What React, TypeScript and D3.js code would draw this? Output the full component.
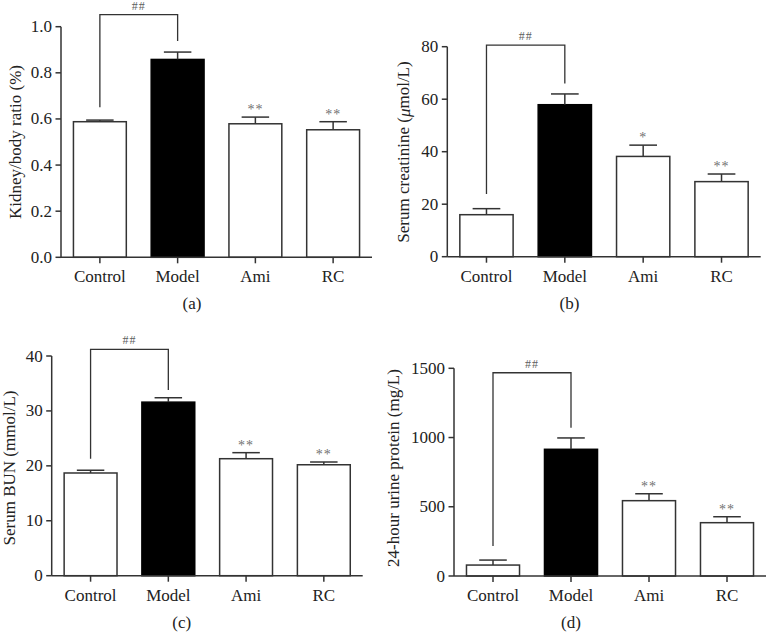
import React from "react";
import * as d3 from "d3";

const categories = ["Control", "Model", "Ami", "RC"];

const kidneyMeans = [0.588, 0.858, 0.579, 0.553];
const kidneySem = [0.007, 0.032, 0.029, 0.035];
const kidneyStars = ["", "", "**", "**"];
const kidneyTicks = [0, 0.2, 0.4, 0.6, 0.8, 1.0];
const kidneyBracket = [1.052, 0.651, 0.938]; // top, left leg end, right leg end

const creatMeans = [16.0, 57.9, 38.2, 28.6];
const creatSem = [2.3, 4.1, 4.3, 2.9];
const creatStars = ["", "", "*", "**"];
const creatTicks = [0, 20, 40, 60, 80];
const creatBracket = [80.6, 23.9, 66];

const bunMeans = [18.7, 31.6, 21.3, 20.2];
const bunSem = [0.5, 0.8, 1.1, 0.5];
const bunStars = ["", "", "**", "**"];
const bunTicks = [0, 10, 20, 30, 40];
const bunBracket = [41.2, 21.3, 33.8];

const urineMeans = [79, 915, 544, 385];
const urineSem = [36, 82, 50, 43];
const urineStars = ["", "", "**", "**"];
const urineTicks = [0, 500, 1000, 1500];
const urineBracket = [1468, 217, 1071];

const FONT = "'Liberation Serif', 'Times New Roman', serif";
const LINE = "#333";
const FS = 17;

type PanelProps = {
  means: number[];
  sem: number[];
  stars: string[];
  ticks: number[];
  tickFmt: (v: number) => string;
  bracket: number[];
  x0: number;
  x1: number;
  yTop: number;
  yBottom: number;
  labelX: number;
  labelY: number;
  label: React.ReactNode;
  caption: string;
  captionX: number;
};

function Panel(p: PanelProps) {
  const x = d3
    .scaleBand<string>()
    .domain(categories)
    .range([p.x0, p.x1])
    .paddingInner(0.32)
    .paddingOuter(0.16);
  const y = d3
    .scaleLinear()
    .domain([p.ticks[0], p.ticks[p.ticks.length - 1]])
    .range([p.yBottom, p.yTop]);
  const bw = x.bandwidth();
  const cx = (c: string) => (x(c) as number) + bw / 2;
  const [bTop, bLeft, bRight] = p.bracket;
  const xl = cx(categories[0]);
  const xr = cx(categories[1]);
  const bracketPath = d3.line()([
    [xl, y(bLeft)],
    [xl, y(bTop)],
    [xr, y(bTop)],
    [xr, y(bRight)],
  ]) as string;
  return (
    <g fontFamily={FONT}>
      {categories.map((c, i) => (
        <rect
          key={c}
          x={x(c)}
          y={y(p.means[i])}
          width={bw}
          height={y(0) - y(p.means[i])}
          fill={i === 1 ? "#000" : "#fff"}
          stroke={i === 1 ? "#000" : LINE}
          strokeWidth={1.5}
        />
      ))}
      {categories.map((c, i) => {
        const top = y(p.means[i] + p.sem[i]);
        const cw = bw * 0.52;
        return (
          <g key={"e" + c} stroke={LINE} strokeWidth={1.5}>
            <line x1={cx(c)} x2={cx(c)} y1={y(p.means[i])} y2={top} />
            <line x1={cx(c) - cw / 2} x2={cx(c) + cw / 2} y1={top} y2={top} />
          </g>
        );
      })}
      {categories.map((c, i) =>
        p.stars[i] ? (
          <text
            key={"s" + c}
            x={cx(c)}
            y={y(p.means[i] + p.sem[i]) - 3}
            textAnchor="middle"
            fontSize={14}
            letterSpacing={1}
            fill="#707070"
          >
            {p.stars[i]}
          </text>
        ) : null
      )}
      <path d={bracketPath} fill="none" stroke={LINE} strokeWidth={1.3} />
      <text
        x={(xl + xr) / 2}
        y={y(bTop) - 5}
        textAnchor="middle"
        fontSize={12}
        letterSpacing={1}
        fill="#606060"
      >
        ##
      </text>
      <line x1={p.x0} x2={p.x0} y1={y(p.ticks[p.ticks.length - 1])} y2={y(0)} stroke={LINE} strokeWidth={1.5} />
      {p.ticks.map((t) => (
        <g key={"t" + t}>
          <line x1={p.x0 - 5.5} x2={p.x0} y1={y(t)} y2={y(t)} stroke={LINE} strokeWidth={1.5} />
          <text
            x={p.x0 - 9}
            y={y(t)}
            textAnchor="end"
            dominantBaseline="central"
            fontSize={FS}
            fill="#222"
          >
            {p.tickFmt(t)}
          </text>
        </g>
      ))}
      <line x1={p.x0} x2={p.x1} y1={y(0)} y2={y(0)} stroke={LINE} strokeWidth={1.5} />
      {categories.map((c) => (
        <g key={"x" + c}>
          <line x1={cx(c)} x2={cx(c)} y1={y(0)} y2={y(0) + 6} stroke={LINE} strokeWidth={1.5} />
          <text x={cx(c)} y={y(0) + 25} textAnchor="middle" fontSize={FS} fill="#222">
            {c}
          </text>
        </g>
      ))}
      <text
        transform={`translate(${p.labelX},${p.labelY}) rotate(-90)`}
        textAnchor="middle"
        dominantBaseline="central"
        fontSize={FS}
        fill="#222"
      >
        {p.label}
      </text>
      <text x={p.captionX} y={y(0) + 52} textAnchor="middle" fontSize={FS} fill="#222">
        {p.caption}
      </text>
    </g>
  );
}

export default function App() {
  const f1 = d3.format(".1f");
  const f0 = d3.format("d");
  return (
    <svg
      width={768}
      height={633}
      style={{ position: "absolute", left: 0, top: 0, background: "#fff" }}
    >
      <rect width={768} height={633} fill="#fff" />
      <Panel
        means={kidneyMeans}
        sem={kidneySem}
        stars={kidneyStars}
        ticks={kidneyTicks}
        tickFmt={f1}
        bracket={kidneyBracket}
        x0={61}
        x1={372}
        yTop={26.7}
        yBottom={257.3}
        labelX={15.5}
        labelY={142}
        label="Kidney/body ratio (%)"
        caption="(a)"
        captionX={192}
      />
      <Panel
        means={creatMeans}
        sem={creatSem}
        stars={creatStars}
        ticks={creatTicks}
        tickFmt={f0}
        bracket={creatBracket}
        x0={447.3}
        x1={760.7}
        yTop={46.7}
        yBottom={256.7}
        labelX={403.5}
        labelY={152}
        label={
          <>
            Serum creatinine (<tspan fontStyle="italic">μ</tspan>mol/L)
          </>
        }
        caption="(b)"
        captionX={569.5}
      />
      <Panel
        means={bunMeans}
        sem={bunSem}
        stars={bunStars}
        ticks={bunTicks}
        tickFmt={f0}
        bracket={bunBracket}
        x0={51.7}
        x1={362.7}
        yTop={356}
        yBottom={575.7}
        labelX={9.5}
        labelY={468}
        label="Serum BUN (mmol/L)"
        caption="(c)"
        captionX={181.7}
      />
      <Panel
        means={urineMeans}
        sem={urineSem}
        stars={urineStars}
        ticks={urineTicks}
        tickFmt={f0}
        bracket={urineBracket}
        x0={454}
        x1={766}
        yTop={368.3}
        yBottom={576}
        labelX={393}
        labelY={468}
        label="24-hour urine protein (mg/L)"
        caption="(d)"
        captionX={571}
      />
    </svg>
  );
}
